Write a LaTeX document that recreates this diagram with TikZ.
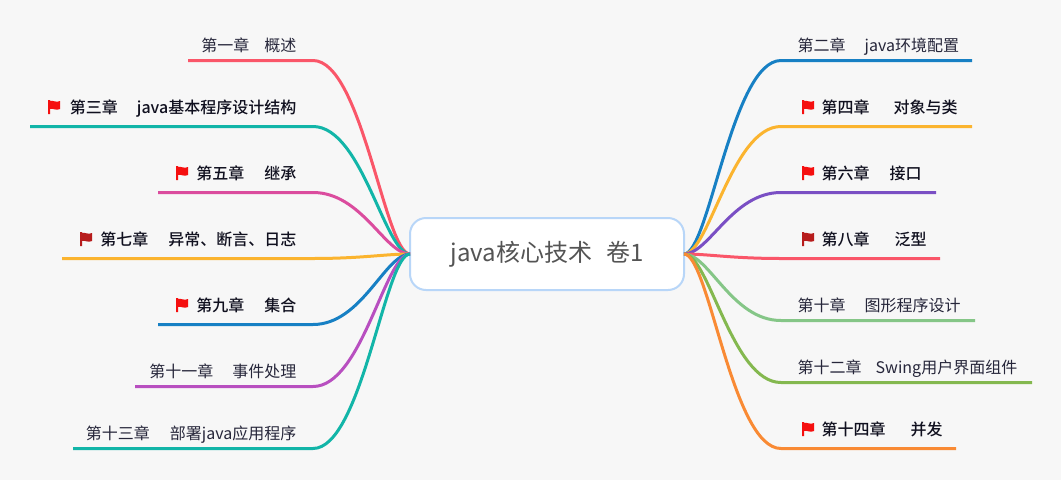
\documentclass[tikz,border=0pt]{standalone}
\usepackage{fontspec}
\usepackage{xcolor}
\setmainfont[BoldFont={Noto Sans CJK SC Medium}]{Noto Sans CJK SC}
\definecolor{bgcol}{HTML}{F7F7F7}
\definecolor{rootline}{HTML}{B8D6F8}
\definecolor{plaintext}{HTML}{26263A}
\definecolor{boldtext}{HTML}{10101F}
\definecolor{flagred}{HTML}{F50F0F}
\definecolor{flagdark}{HTML}{B71C1C}
\definecolor{cred}{HTML}{FA5669}
\definecolor{cteal}{HTML}{12B5A8}
\definecolor{cpink}{HTML}{DB4C9E}
\definecolor{cyellow}{HTML}{FBB42F}
\definecolor{cblue}{HTML}{1780C4}
\definecolor{cpurple}{HTML}{B84FC0}
\definecolor{cviolet}{HTML}{7A4FC4}
\definecolor{clight}{HTML}{85C687}
\definecolor{cgreen}{HTML}{84B84F}
\definecolor{corange}{HTML}{F98A34}
\tikzset{
  rootbox/.style={draw=rootline, line width=2pt, fill=white, rounded corners=16pt, minimum width=274pt, minimum height=72pt, inner sep=0pt, outer sep=0pt, text=black!67, font=\fontsize{24}{28}\selectfont},
  plainlabel/.style={inner sep=0pt, text=plaintext, font=\fontsize{16}{20}\selectfont},
  boldlabel/.style={inner sep=0pt, text=boldtext, font=\fontsize{16}{20}\selectfont\bfseries},
  branch/.style={line width=3pt, line cap=butt},
  flagicon/.pic={\fill[#1] (0,0) -- (2,0) -- (2,1) .. controls (5,0) and (8,3) .. (12,1) -- (12,9) .. controls (8,11) and (5,8) .. (2,9) -- (2,14) -- (0,14) -- cycle;}
}
\begin{document}
\begin{tikzpicture}[x=1pt, y=-1pt]
    \useasboundingbox[fill=bgcol] (0,0) rectangle (1061,480);

    % Define nodes
    \node[rootbox] (root) at (547,254) {java核心技术\hspace{14pt}卷1};

    \node[plainlabel, anchor=base east] (left1) at (296.5,51.7) {第一章\hspace{15pt}概述};
    \node[boldlabel, anchor=base east] (left2) at (296.5,113.7) {第三章\hspace{19pt}java基本程序设计结构};
    \node[boldlabel, anchor=base east] (left3) at (296.5,179.7) {第五章\hspace{20pt}继承};
    \node[boldlabel, anchor=base east] (left4) at (296.5,245.7) {第七章\hspace{20pt}异常、断言、日志};
    \node[boldlabel, anchor=base east] (left5) at (296.5,311.7) {第九章\hspace{20pt}集合};
    \node[plainlabel, anchor=base east] (left6) at (296.5,377.7) {第十一章\hspace{19pt}事件处理};
    \node[plainlabel, anchor=base east] (left7) at (296.5,439.7) {第十三章\hspace{20pt}部署java应用程序};

    \node[plainlabel, anchor=base west] (right1) at (797.5,51.7) {第二章\hspace{19pt}java环境配置};
    \node[boldlabel, anchor=base west] (right2) at (821.5,113.7) {第四章\hspace{24pt}对象与类};
    \node[boldlabel, anchor=base west] (right3) at (821.5,179.7) {第六章\hspace{20pt}接口};
    \node[boldlabel, anchor=base west] (right4) at (821.5,245.7) {第八章\hspace{25pt}泛型};
    \node[plainlabel, anchor=base west] (right5) at (797.5,311.7) {第十章\hspace{19pt}图形程序设计};
    \node[plainlabel, anchor=base west] (right6) at (797.5,373.7) {第十二章\hspace{14pt}Swing用户界面组件};
    \node[boldlabel, anchor=base west] (right7) at (821.5,435.7) {第十四章\hspace{25pt}并发};

    % Flags
    \pic at (48,100) {flagicon=flagred};
    \pic at (176,166) {flagicon=flagred};
    \pic at (80,232) {flagicon=flagdark};
    \pic at (176,298) {flagicon=flagred};
    \pic at (802,100) {flagicon=flagred};
    \pic at (802,166) {flagicon=flagred};
    \pic at (802,232) {flagicon=flagdark};
    \pic at (802,422) {flagicon=flagred};

    % Line bends and free ends
    \coordinate (bendl1) at (313,60.5);  \coordinate (endl1) at (188,60.5);
    \coordinate (bendl2) at (313,126.5); \coordinate (endl2) at (30,126.5);
    \coordinate (bendl3) at (313,192.5); \coordinate (endl3) at (158,192.5);
    \coordinate (bendl4) at (313,258.5); \coordinate (endl4) at (62,258.5);
    \coordinate (bendl5) at (313,324.5); \coordinate (endl5) at (158,324.5);
    \coordinate (bendl6) at (313,386.5); \coordinate (endl6) at (135,386.5);
    \coordinate (bendl7) at (313,448.5); \coordinate (endl7) at (73,448.5);
    \coordinate (bendr1) at (781,60.5);  \coordinate (endr1) at (972,60.5);
    \coordinate (bendr2) at (781,126.5); \coordinate (endr2) at (972,126.5);
    \coordinate (bendr3) at (781,192.5); \coordinate (endr3) at (936,192.5);
    \coordinate (bendr4) at (781,258.5); \coordinate (endr4) at (940,258.5);
    \coordinate (bendr5) at (781,320.5); \coordinate (endr5) at (975,320.5);
    \coordinate (bendr6) at (781,382.5); \coordinate (endr6) at (1032,382.5);
    \coordinate (bendr7) at (781,448.5); \coordinate (endr7) at (956,448.5);

    % Draw edges
    \draw[branch, cred] (root.west) .. controls +(-25,0) and +(49,0) .. (bendl1) -- (endl1);
    \draw[branch, cteal] (root.west) .. controls +(-25,0) and +(49,0) .. (bendl2) -- (endl2);
    \draw[branch, cpink] (root.west) .. controls +(-25,0) and +(49,0) .. (bendl3) -- (endl3);
    \draw[branch, cyellow] (root.west) .. controls +(-25,0) and +(49,0) .. (bendl4) -- (endl4);
    \draw[branch, cblue] (root.west) .. controls +(-25,0) and +(49,0) .. (bendl5) -- (endl5);
    \draw[branch, cpurple] (root.west) .. controls +(-25,0) and +(49,0) .. (bendl6) -- (endl6);
    \draw[branch, cteal] (root.west) .. controls +(-25,0) and +(49,0) .. (bendl7) -- (endl7);
    \draw[branch, cblue] (root.east) .. controls +(25,0) and +(-49,0) .. (bendr1) -- (endr1);
    \draw[branch, cyellow] (root.east) .. controls +(25,0) and +(-49,0) .. (bendr2) -- (endr2);
    \draw[branch, cviolet] (root.east) .. controls +(25,0) and +(-49,0) .. (bendr3) -- (endr3);
    \draw[branch, cred] (root.east) .. controls +(25,0) and +(-49,0) .. (bendr4) -- (endr4);
    \draw[branch, clight] (root.east) .. controls +(25,0) and +(-49,0) .. (bendr5) -- (endr5);
    \draw[branch, cgreen] (root.east) .. controls +(25,0) and +(-49,0) .. (bendr6) -- (endr6);
    \draw[branch, corange] (root.east) .. controls +(25,0) and +(-49,0) .. (bendr7) -- (endr7);
\end{tikzpicture}
\end{document}
